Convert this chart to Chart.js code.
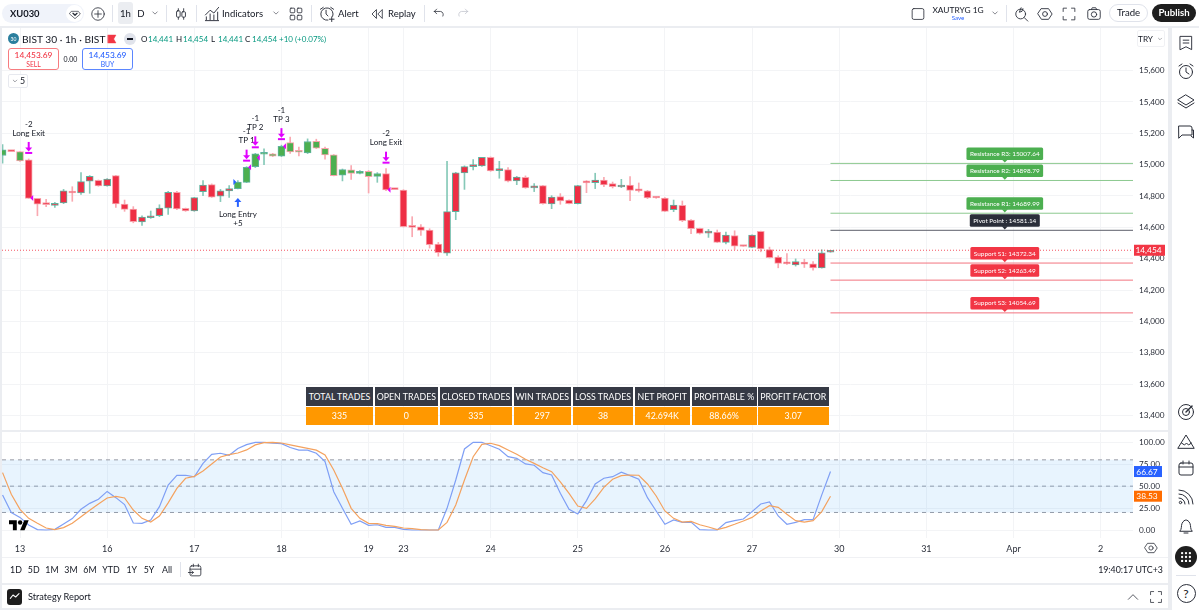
<!DOCTYPE html>
<html><head><meta charset="utf-8"><title>BIST 30 1h</title>
<script src="https://cdn.jsdelivr.net/npm/chart.js@4"></script>
<style>
html,body{margin:0;padding:0;background:#ebedf1;overflow:hidden}
#wrap{position:relative;width:1199px;height:610px;overflow:hidden;background:#ebedf1;font-family:Lato,sans-serif;color:#131722}
.p{position:absolute;background:#fff}
.t{position:absolute;white-space:nowrap;line-height:1;transform:translate(-50%,-50%)}
.l{transform:translate(0,-50%)}
.ic{position:absolute;transform:translate(-50%,-50%);fill:none;stroke:#2a2e39;stroke-width:1;stroke-linecap:round;stroke-linejoin:round}
canvas{position:absolute;display:block}
.c{position:absolute;color:#fff;font-size:8.8px;display:flex;align-items:center;justify-content:center;white-space:nowrap}
</style></head><body>
<div id="wrap">
  <div class="p" style="left:0;top:0;width:1199px;height:26px"></div>
  <div class="p" style="left:2px;top:28px;width:1166px;height:555px"></div>
  <div class="p" style="left:2px;top:585px;width:1166px;height:23px"></div>
  <div class="p" style="left:1172px;top:28px;width:27px;height:582px"></div>
  <div style="position:absolute;left:2px;top:430px;width:1166px;height:2px;background:#ebedf1;z-index:3"></div>
  <div style="position:absolute;left:2px;top:557px;width:1166px;height:1px;background:#f0f1f4"></div>
  <canvas id="mainChart" style="left:0;top:28px;width:1168px;height:402px"></canvas>
  <canvas id="oscChart" style="left:0;top:432px;width:1168px;height:125px"></canvas>
  <div id="ui"></div>
</div>
<script>
// ---- data ----
const firstBarIndex = -2;
const opens  = [15058,15087,15083,15030,14785,14747,14740,14755,14830,14819,14894,14900,14864,14930,14749,14717,14634,14661,14674,14723,14823,14721,14704,14828,14872,14798,14832,14847,14887,14987,15066,15068,15053,15141,15081,15075,15149,15104,15062,14932,14966,14943,14957,14925,14943,14845,14838,14608,14604,14583,14493,14436,14700,14947,14987,14992,15047,14962,14968,14896,14919,14851,14866,14749,14796,14774,14751,14885,14885,14902,14879,14857,14870,14836,14832,14791,14787,14712,14740,14646,14593,14563,14570,14504,14548,14482,14472,14574,14459,14410,14372,14361,14378,14367,14342,14441];
const highs  = [15128,15087,15083,15036,14785,14779,14759,14842,14859,14949,14930,14902,14911,14932,14774,14732,14674,14704,14744,14830,14830,14723,14791,14898,14877,14842,14866,14898,14987,15072,15100,15072,15124,15175,15111,15164,15162,15111,15064,14972,14994,14962,14962,14949,14974,14845,14840,14668,14617,14591,14504,15021,14951,14992,15032,15047,15049,15021,14981,14925,14928,14879,14868,14802,14815,14776,14868,14898,14945,14919,14889,14906,14923,14883,14836,14793,14789,14774,14768,14649,14595,14587,14583,14570,14578,14482,14553,14576,14474,14419,14433,14399,14397,14382,14457,14454];
const lows   = [15009,15083,15021,14785,14674,14732,14727,14751,14766,14810,14817,14862,14862,14727,14702,14629,14612,14657,14668,14683,14712,14702,14702,14802,14791,14764,14791,14845,14885,14981,15000,15051,15051,15072,15055,15070,15102,15034,14928,14896,14906,14940,14819,14887,14834,14840,14602,14540,14548,14468,14416,14421,14649,14842,14966,14989,14957,14913,14889,14872,14849,14828,14747,14719,14747,14749,14749,14821,14847,14859,14851,14853,14770,14825,14783,14785,14700,14700,14636,14559,14557,14536,14502,14495,14459,14478,14470,14444,14404,14342,14363,14353,14344,14327,14340,14441];
const closes = [15094,15083,15023,14785,14747,14745,14753,14832,14819,14891,14925,14864,14908,14749,14715,14636,14666,14674,14723,14823,14717,14704,14789,14870,14793,14832,14847,14889,14983,15068,15068,15053,15117,15081,15079,15147,15104,15062,14930,14968,14943,14957,14923,14943,14838,14840,14604,14600,14580,14489,14438,14700,14947,14987,14994,15047,14960,14966,14894,14921,14851,14864,14751,14793,14768,14751,14866,14883,14902,14870,14859,14870,14836,14832,14787,14787,14702,14742,14642,14591,14561,14568,14504,14551,14480,14478,14551,14463,14406,14370,14367,14382,14365,14342,14438,14454];
const longBarIndices = [-2,0,25,26,27,28,29,30,31,32,33,34,35,36,37,38,39,40,41];
const stochK = [40,20,14.4,5.7,0.4,0,0.8,6.8,13,23.6,30.4,35,44,36.9,29,8,7.6,11.4,26.6,51.3,62.4,62.4,60.5,76,86.3,87.5,85.2,93,97.3,100,100,99,98.5,94,91,91,87.5,78,43.7,24.7,6.5,10.3,5.3,6,3,3,0.8,0,0,0,0,24.7,57,92.4,100,100,96,92,83.6,81.7,75.3,73.8,65.4,62.7,41.8,23.6,18.3,33.5,52.5,59,60.8,66,62,58,36.9,21.7,6.5,11.4,8.7,9,0.4,0,0,8.4,10.6,12.5,21,29.7,32,16,6.5,8.7,11.8,11.8,40,66.67];
const stochD = [65.4,40.7,23.6,13.3,7.6,2.3,0.4,2.7,7.6,15.2,22.4,29.7,36.5,38.4,36.5,22.8,13.3,9,16,31,47.5,59,61.2,67.3,75.3,83.3,86,87.8,91.3,97,99.6,100,99.2,97,95,93,91,85.5,68.4,47.5,24.7,13.3,7.6,7.2,5.3,4.2,2.3,1.5,0.4,0,0,8.7,28.5,57,83.6,97.7,98.9,96.2,91.3,86.3,80.6,76,71,66.5,55,41.8,27.4,24.7,35.4,48.7,57.8,62,62.7,62.4,52.5,38.8,21.7,13.3,9,9.9,6,3.4,0.4,3,6.5,10.3,14.4,21.7,27.8,25.9,17.9,10.6,9,10.6,21,38.53];
const dayTickIndex  = [0,10,20,30,40,44,54,64,74,84,94,104,114,124];
const dayTickLabels = ["13","16","17","18","19","23","24","25","26","27","30","31","Apr","2"];
const priceTicks = [13400,13600,13800,14000,14200,14400,14600,14800,15000,15200,15400,15600];
const oscTicks = [0,25,50,75,100];
const oscBands = [80,50,20];
const lastPrice = 14454;
const levelNames  = ["Resistance R3: 15007.64","Resistance R2: 14898.79","Resistance R1: 14689.99","Pivot Point : 14581.14","Support S1: 14372.34","Support S2: 14263.49","Support S3: 14054.69"];
const levelValues = [15007.64,14898.79,14689.99,14581.14,14372.34,14263.49,14054.69];
const levelKinds  = ["r","r","r","p","s","s","s"];
const levelFrom = 93, levelTo = 133, levelLabelAt = 113;
const exitBars   = [1,26,27,30,42];
const exitQty    = ["-2","-1","-1","-1","-2"];
const exitNames  = ["Long Exit","TP 1","TP 2","TP 3","Long Exit"];
const exitFills  = [14787,14983,15043,15117,14840];
const entryBars  = [25];
const entryQty   = ["+5"];
const entryNames = ["Long Entry"];
const entryFills = [14889];
const statHeads  = ["TOTAL TRADES","OPEN TRADES","CLOSED TRADES","WIN TRADES","LOSS TRADES","NET PROFIT","PROFITABLE %","PROFIT FACTOR"];
const statValues = ["335","0","335","297","38","42.694K","88.66%","3.07"];
// ---- styling ----
const FONT='Lato,sans-serif', GRID='#f3f4f6', TXT='#2a2e39';
const RED='#ee2e44', GREEN='#4caf50', UPB='#5eb3a0', DNB='#f7a3ab', UPW='#86c9b8', DNW='#f9a9b1';
const levelColor={r:'#8cc98f',p:'#5d606b',s:'#f2737f'}, levelBox={r:'#4caf50',p:'#2a2e39',s:'#f23645'};
const barIdx=opens.map((_,i)=>i+firstBarIndex);
const xMin=(2-20)/8.715, xMax=(1133-20)/8.715;
function noPad(s){s.paddingTop=s.paddingBottom=s.paddingLeft=s.paddingRight=0;}
function xAxis(showLabels){return {type:'linear',min:xMin,max:xMax,offset:false,
  afterBuildTicks:s=>{s.ticks=dayTickIndex.map(v=>({value:v}))},
  grid:{color:GRID,tickLength:0,offset:false,drawTicks:false},border:{display:false},
  ticks:{display:showLabels,autoSkip:false,maxRotation:0,padding:6,color:TXT,font:{family:FONT,size:9},
    callback:v=>dayTickLabels[dayTickIndex.indexOf(v)]},
  afterFit:s=>{s.height=showLabels?19:0;noPad(s)}};}
function yAxis(ticks,min,max,fmt){return {position:'right',min,max,
  afterBuildTicks:s=>{s.ticks=ticks.map(v=>({value:v}))},
  grid:{color:GRID,tickLength:0,drawTicks:false},border:{display:false},
  ticks:{padding:6,color:TXT,font:{family:FONT,size:8.2},callback:fmt},
  afterFit:s=>{s.width=35;noPad(s)}};}
function tag(ctx,x,y,w,text,bg){ctx.fillStyle=bg;ctx.fillRect(x,y-5.5,w,11);ctx.fillStyle='#fff';ctx.font='8.4px '+FONT;ctx.textAlign='center';ctx.textBaseline='middle';ctx.fillText(text,x+w/2-1,y+.5);}
const overlay={id:'overlay',afterDatasetsDraw(c){
  const ctx=c.ctx,X=c.scales.x,Y=c.scales.y;ctx.save();
  levelValues.forEach((v,i)=>{const y=Y.getPixelForValue(v),x=X.getPixelForValue(levelLabelAt),col=levelBox[levelKinds[i]];
    ctx.font='6.4px '+FONT;const w=ctx.measureText(levelNames[i]).width+7;
    ctx.fillStyle=col;ctx.beginPath();ctx.roundRect(x-w/2,y-16,w,12.5,1.5);ctx.fill();
    ctx.beginPath();ctx.moveTo(x-3,y-4);ctx.lineTo(x+3,y-4);ctx.lineTo(x,y-.8);ctx.closePath();ctx.fill();
    ctx.fillStyle='#fff';ctx.textAlign='center';ctx.textBaseline='middle';ctx.fillText(levelNames[i],x,y-9.6);});
  exitBars.forEach((b,i)=>{const k=b-firstBarIndex,x=X.getPixelForValue(b),yh=Y.getPixelForValue(highs[k]),bot=yh-6;
    ctx.strokeStyle=ctx.fillStyle='#e100ff';ctx.lineWidth=2;
    ctx.beginPath();ctx.moveTo(x,bot-11);ctx.lineTo(x,bot-4);ctx.stroke();
    ctx.beginPath();ctx.moveTo(x-3.5,bot-5.5);ctx.lineTo(x+3.5,bot-5.5);ctx.lineTo(x,bot-1.5);ctx.closePath();ctx.fill();
    ctx.fillRect(x-3.5,bot-1,7,2);
    const fy=Y.getPixelForValue(exitFills[i]);
    ctx.beginPath();ctx.moveTo(x+1.5,fy);ctx.lineTo(x+4.5,fy-3);ctx.lineTo(x+4.5,fy+3);ctx.closePath();ctx.fill();
    ctx.fillStyle='#131722';ctx.font='8px '+FONT;ctx.textAlign='center';ctx.textBaseline='middle';
    ctx.fillText(exitNames[i],x,bot-20);ctx.fillText(exitQty[i],x,bot-29);});
  entryBars.forEach((b,i)=>{const k=b-firstBarIndex,x=X.getPixelForValue(b),yl=Y.getPixelForValue(lows[k]),top=yl+9;
    ctx.strokeStyle=ctx.fillStyle='#2962ff';ctx.lineWidth=2;
    ctx.beginPath();ctx.moveTo(x,top+3);ctx.lineTo(x,top+9);ctx.stroke();
    ctx.beginPath();ctx.moveTo(x-3.5,top+4);ctx.lineTo(x+3.5,top+4);ctx.lineTo(x,top);ctx.closePath();ctx.fill();
    const fy=Y.getPixelForValue(entryFills[i]);
    ctx.beginPath();ctx.moveTo(x-1.5,fy);ctx.lineTo(x-4.5,fy-3);ctx.lineTo(x-4.5,fy+3);ctx.closePath();ctx.fill();
    ctx.fillStyle='#131722';ctx.font='8px '+FONT;ctx.textAlign='center';ctx.textBaseline='middle';
    ctx.fillText(entryNames[i],x,top+17);ctx.fillText(entryQty[i],x,top+26);});
  tag(ctx,1134,Y.getPixelForValue(lastPrice),31,lastPrice.toLocaleString('en-US'),'#f23645');
  ctx.restore();}};
const oscOverlay={id:'oscOverlay',afterDatasetsDraw(c){const ctx=c.ctx,Y=c.scales.y;ctx.save();
  tag(ctx,1134,Y.getPixelForValue(stochK.at(-1)),28,stochK.at(-1).toFixed(2),'#2962ff');
  tag(ctx,1134,Y.getPixelForValue(stochD.at(-1)),28,stochD.at(-1).toFixed(2),'#ff6d00');
  ctx.restore();}};
const base={responsive:false,animation:false,events:[],plugins:{legend:{display:false},tooltip:{enabled:false}}};
function mk(id,w,h){const e=document.getElementById(id);e.width=w;e.height=h;e.style.width=w+'px';e.style.height=h+'px';return e;}
const pMax=15000+136.6*6.375, pMin=15000-265.4*6.375;
const levelSets=levelValues.map((v,i)=>({type:'line',data:[{x:levelFrom,y:v},{x:levelTo,y:v}],borderColor:levelColor[levelKinds[i]],borderWidth:1,pointRadius:0,order:0}));
new Chart(mk('mainChart',1168,402),{type:'bar',
 data:{datasets:[
  {label:'Wick',data:barIdx.map((x,i)=>({x,y:[lows[i],highs[i]]})),grouped:false,barThickness:1,
   backgroundColor:barIdx.map((x,i)=>closes[i]>=opens[i]?UPW:DNW),order:4},
  {label:'Body',data:barIdx.map((x,i)=>({x,y:[opens[i],closes[i]]})),grouped:false,barThickness:7,minBarLength:2,borderSkipped:false,borderWidth:1,
   backgroundColor:barIdx.map(x=>longBarIndices.includes(x)?GREEN:RED),
   borderColor:barIdx.map((x,i)=>closes[i]>=opens[i]?UPB:DNB),order:3},
  {type:'line',label:'Last',data:[{x:xMin,y:lastPrice},{x:xMax,y:lastPrice}],borderColor:'rgba(242,54,69,.85)',borderWidth:1,borderDash:[1,2],pointRadius:0,order:2},
  ...levelSets]},
 options:{...base,layout:{padding:{left:2,top:0,bottom:0,right:0}},
  scales:{x:xAxis(false),y:yAxis(priceTicks,pMin,pMax,v=>v.toLocaleString('en-US'))}},
 plugins:[overlay]});
const oMax=(530-433)/0.877, oMin=-(538-530)/0.877;
new Chart(mk('oscChart',1168,125),{type:'line',
 data:{datasets:[
  {label:'Upper',data:[{x:xMin,y:oscBands[0]},{x:xMax,y:oscBands[0]}],borderColor:'#9a9ca5',borderWidth:1,borderDash:[4,4],pointRadius:0,fill:{value:oscBands[2]},backgroundColor:'rgba(33,150,243,.1)',order:3},
  {label:'Mid',data:[{x:xMin,y:oscBands[1]},{x:xMax,y:oscBands[1]}],borderColor:'#9a9ca5',borderWidth:1,borderDash:[4,4],pointRadius:0,order:3},
  {label:'Lower',data:[{x:xMin,y:oscBands[2]},{x:xMax,y:oscBands[2]}],borderColor:'#9a9ca5',borderWidth:1,borderDash:[4,4],pointRadius:0,order:3},
  {label:'K',data:barIdx.map((x,i)=>({x,y:stochK[i]})),borderColor:'#7f9ff5',borderWidth:1.2,pointRadius:0,tension:0,order:2},
  {label:'D',data:barIdx.map((x,i)=>({x,y:stochD[i]})),borderColor:'#f4a25f',borderWidth:1.2,pointRadius:0,tension:0,order:1}]},
 options:{...base,layout:{padding:{left:2,top:1,bottom:0,right:0}},
  scales:{x:xAxis(true),y:yAxis(oscTicks,oMin,oMax,v=>v.toFixed(2))}},
 plugins:[oscOverlay]});

// ---- page chrome ----
const ui=document.getElementById('ui');
function el(html){ui.insertAdjacentHTML('beforeend',html);}
function T(s,x,y,size,o={}){el(`<span class="t ${o.left?'l':''}" style="left:${x}px;top:${y}px;font-size:${size}px;color:${o.c||'#131722'};font-weight:${o.w||400};z-index:5">${s}</span>`);}
function B(x,y,w,h,css){el(`<div style="position:absolute;left:${x}px;top:${y}px;width:${w}px;height:${h}px;box-sizing:border-box;z-index:4;${css}"></div>`);}
function I(x,y,s,path,css=''){el(`<svg class="ic" viewBox="0 0 18 18" width="${s}" height="${s}" style="left:${x}px;top:${y}px;z-index:5;${css}">${path}</svg>`);}
const chev='<path d="M5 7l4 4 4-4"/>';
B(2,4,82,19,'background:#f0f3fa;border-radius:10px');
T('XU030',10,13.5,9.4,{left:1,w:700});
B(66,5,17,17,'background:#fff;border-radius:50%');
I(75,13.5,12,'<path d="M4 5h10l3 4-8 7-8-7z"/><path d="M6 8l3 3 3-3" stroke-width="2"/>');
I(98,13.5,15,'<circle cx="9" cy="9" r="7.5"/><path d="M9 5v8M5 9h8"/>');
B(112,5,1,17,'background:#e0e3eb');
B(118,2,15,22,'background:#ebedf1;border-radius:3px');
T('1h',125.5,13.5,9.6);T('D',141,13.5,9.6);
I(155,13,10,chev);
B(166,5,1,17,'background:#e0e3eb');
I(181,13.5,16,'<path d="M6 3v12M12 3v12"/><rect x="4" y="5.5" width="4" height="7" rx="1" fill="#fff"/><rect x="10" y="6.5" width="4" height="6" rx="1" fill="#fff"/>');
B(196,5,1,17,'background:#e0e3eb');
I(212,13.5,17,'<path d="M2 16h14M3 15v-3M7 15V9M11 15v-5M15 15V7M2 10l5-5 4 3 5-6"/>');
T('Indicators',222,13.5,9.5,{left:1});
I(276,13,10,chev);
I(296,13.5,15,'<rect x="2" y="2" width="5.5" height="5.5" rx="1"/><rect x="10.5" y="2" width="5.5" height="5.5" rx="1"/><rect x="2" y="10.5" width="5.5" height="5.5" rx="1"/><rect x="10.5" y="10.5" width="5.5" height="5.5" rx="1"/>');
B(311,5,1,17,'background:#e0e3eb');
I(327,13.5,17,'<path d="M10 15.5a6.5 6.5 0 1 1 5-4"/><path d="M8 5v4l2 2M2 4l3-2M13 2l3 2M14 12v5M11.5 14.5h5"/>');
T('Alert',338,13.5,9.5,{left:1});
I(377,13.5,15,'<path d="M8 4L3 9l5 5zM15 4l-5 5 5 5z"/>');
T('Replay',388,13.5,9.5,{left:1});
B(424,5,1,17,'background:#e0e3eb');
I(439,13,14,'<path d="M3 7h8a4 4 0 0 1 3 6M3 7l3-3M3 7l3 3"/>');
I(463,13,14,'<path d="M15 7H7a4 4 0 0 0-3 6M15 7l-3-3M15 7l-3 3"/>','stroke:#c1c4cd');
I(918,13.5,15,'<rect x="2" y="2.5" width="14" height="13" rx="2"/>');
T('XAUTRYG 1G',958,9.5,8.4);T('Save',958,18,6.2,{c:'#2962ff'});
I(995,13,10,chev);
B(1006,5,1,17,'background:#e0e3eb');
I(1022,13.5,16,'<circle cx="7.5" cy="9" r="5.5"/><path d="M11.5 13l4 4M8 2l-2 5 3-1 1-3"/>');
I(1045,13.5,16,'<path d="M5 3h8l4 6-4 6H5L1 9z"/><circle cx="9" cy="9" r="2.7"/>');
I(1069,13.5,15,'<path d="M2 6V2h4M12 2h4v4M16 12v4h-4M6 16H2v-4"/>');
I(1094,13.5,16,'<rect x="2" y="4" width="14" height="11" rx="2"/><circle cx="9" cy="9.5" r="3"/><path d="M6 4l1-2h4l1 2"/>');
B(1109,4,39,18,'border:1px solid #e0e3eb;border-radius:10px;background:#fff');
T('Trade',1128.5,13,9.6);
B(1152,4,44,18,'background:#1e1e1e;border-radius:10px');
T('Publish',1174,13,9.6,{c:'#fff',w:700});
B(8,33,11,11,'background:#2b7f9e;border-radius:50%');
T('30',13.5,38.5,5,{c:'#fff'});
T('BIST 30 · 1h · BIST',22,38.5,10.2,{left:1});
I(112,38.5,10,'<path d="M2 2h14l-4 7 4 7H2z" fill="#f23645" stroke="#f23645"/>');
B(124,32.5,12,12,'background:#e0e3eb;border-radius:50%');
B(127,38,6,1.5,'background:#131722');
const vc='#089981';
[['O','14,441',141],['H','14,454',176],['L','14,441',211],['C','14,454',245]].forEach(([a,b,x])=>{T(a,x,38.5,8,{left:1});T(b,x+7,38.5,8,{left:1,c:vc});});
T('+10 (+0.07%)',279,38.5,8,{left:1,c:vc});
B(8,48,51,22,'border:1px solid #f77c80;border-radius:3px;background:#fff');
T('14,453.69',33.5,54.5,8.4,{c:'#f23645',w:500});T('SELL',33.5,63.5,6.8,{c:'#f23645'});
T('0.00',70.5,59,7);
B(82,48,51,22,'border:1px solid #5b86ff;border-radius:3px;background:#fff');
T('14,453.69',107.5,54.5,8.4,{c:'#2962ff',w:500});T('BUY',107.5,63.5,6.8,{c:'#2962ff'});
B(8,74,20,14,'border:1px solid #e7e9ef;border-radius:2px;background:#fff');
I(14.5,81,8,chev);T('5',22.5,81,8.8);
B(1137,30,28,17,'background:#fff;border:1px solid #f0f1f4;border-radius:2px');
T('TRY',1145.5,38.5,8.2);I(1160,38.5,7,chev);
el('<svg viewBox="0 0 36 28" width="20" height="15.6" style="position:absolute;left:8.5px;top:517.5px;z-index:5"><path d="M14 22H7V11H0V4h14v18zM28 22h-8l7.5-18h8L28 22z" fill="#000"/><circle cx="20" cy="8" r="4" fill="#000"/></svg>');
const cols=[[306,373],[375,437.7],[440,511.8],[513.5,571],[573,633],[635,689.5],[691.5,756.6],[758,828.6]];
cols.forEach(([a,b],i)=>{
 el(`<div class="c" style="left:${a}px;top:387px;width:${b-a}px;height:18.5px;background:#363a45;z-index:4">${statHeads[i]}</div>`);
 el(`<div class="c" style="left:${a}px;top:407px;width:${b-a}px;height:17.5px;background:#ff9800;z-index:4">${statValues[i]}</div>`);});
I(1186,43,17,'<path d="M3 2h12v14l-6-3-6 3zM6 6h6M6 9h6"/>');
I(1186,71,18,'<circle cx="9" cy="10" r="6.5"/><path d="M9 6v4l3 2M2 4l3-2M13 2l3 2"/>');
I(1186,101,18,'<path d="M9 3l8 5-8 5-8-5zM1 11l8 5 8-5"/>');
I(1186,132,18,'<path d="M2 3h11a2 2 0 0 1 2 2v7H5l-3 3zM15 7h1.5v8L14 13"/>');
I(1186,412,18,'<circle cx="9" cy="9" r="7.5"/><circle cx="9" cy="9" r="3.5"/><path d="M9 9l6-6" stroke-width="1.5"/>');
I(1186,442,18,'<path d="M1 15L9 2l8 13zM4.5 10l3 2 2-2 2 2 3-2"/>');
I(1186,468,18,'<rect x="2" y="4" width="14" height="12" rx="2"/><path d="M2 8h14M6 2v3M12 2v3"/>');
I(1186,497,18,'<circle cx="3.5" cy="14.5" r="1.2"/><path d="M2 10a6 6 0 0 1 6 6M2 6a10 10 0 0 1 10 10M2 2a14 14 0 0 1 14 14"/>');
I(1186,526,18,'<path d="M3 14c2-2 1-5 2-7.5S8 3 9 3s3 1 4 3.5 0 5.5 2 7.5zM7 16h4"/>');
B(1175,546,22,22,'background:#1e1e1e;border-radius:50%');
I(1186,557,14,'<path d="M4 4h.01M9 4h.01M14 4h.01M4 9h.01M9 9h.01M14 9h.01M4 14h.01M9 14h.01M14 14h.01" stroke-width="3" style="stroke:#fff"/>');
B(1176,575,20,1,'background:#e0e3eb');
B(1176.5,584,19,19,'border:1px solid #2a2e39;border-radius:50%');
T('?',1186,593.5,12);
I(1151,548,14,'<path d="M5 3h8l4 6-4 6H5L1 9z"/><circle cx="9" cy="9" r="2.7"/>');
[['1D',16],['5D',33.7],['1M',52],['3M',71],['6M',90],['YTD',111],['1Y',131.7],['5Y',149],['All',167]].forEach(([s,x])=>T(s,x,570,8.8));
B(180,562,1,15,'background:#e0e3eb');
I(195,570,15,'<rect x="3" y="4" width="13" height="12" rx="2"/><path d="M3 8h13M7 2v3M13 2v3M1 12h6M5 10l2 2-2 2"/>');
T('19:40:17 UTC+3',1130.5,570,8.8);
B(7,589,15,16,'background:#1e1e1e;border-radius:3px');
I(14.5,597,12,'<path d="M2 11l4-5 4 3 5-5" stroke-width="1.6" style="stroke:#fff"/>');
T('Strategy Report',28,597,9.2,{left:1});
I(1133,597,14,'<path d="M3 12l6-6 6 6"/>');
I(1156,597,14,'<path d="M2 6V2h4M12 2h4v4M16 12v4h-4M6 16H2v-4"/>');
</script>
</body></html>
